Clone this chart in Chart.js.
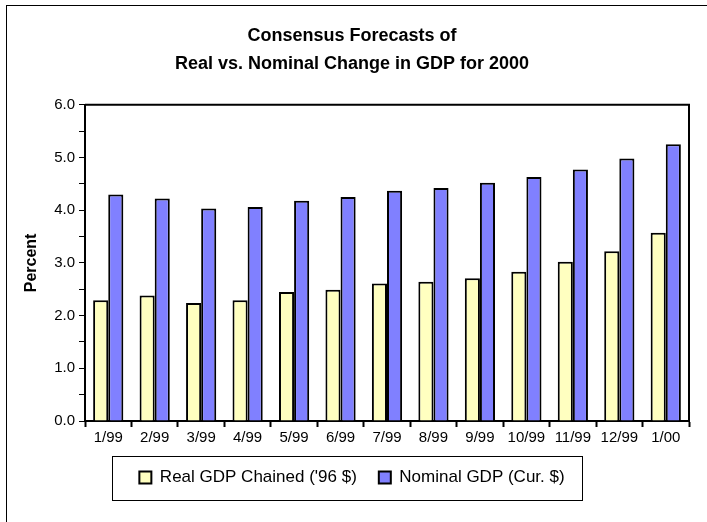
<!DOCTYPE html>
<html lang="en">
<head>
    <meta charset="UTF-8">
    <title>Consensus Forecasts of Real vs. Nominal Change in GDP for 2000</title>
    <script src="https://cdn.jsdelivr.net/npm/chart.js"></script>
    <style>
        html, body { margin: 0; padding: 0; background: #fff; }
        #wrap { position: relative; width: 707px; height: 522px; overflow: hidden; }
        #frame { position: absolute; left: 6px; top: 5px; width: 800px; height: 600px;
                 border-left: 1px solid #000; border-top: 1px solid #000; }
        canvas { position: absolute; left: 0; top: 0; }
    </style>
</head>
<body>
    <div id="wrap">
        <div id="frame"></div>
        <canvas id="gdpChart" width="707" height="522"></canvas>
    </div>

    <script>
        // Data
        const months = ['1/99', '2/99', '3/99', '4/99', '5/99', '6/99', '7/99',
                        '8/99', '9/99', '10/99', '11/99', '12/99', '1/00'];
        const realGdp = [2.29, 2.38, 2.24, 2.29, 2.45, 2.49, 2.61, 2.64, 2.71, 2.83, 3.02, 3.22, 3.57];
        const nominalGdp = [4.30, 4.22, 4.03, 4.06, 4.18, 4.25, 4.37, 4.42, 4.52, 4.63, 4.77, 4.98, 5.25];
        const titleLines = ['Consensus Forecasts of', 'Real vs. Nominal Change in GDP for 2000'];

        const font = 'Arial, "Liberation Sans", sans-serif';

        // box round the plot area and round the legend
        const boxes = {
            id: 'boxes',
            afterDraw(chart) {
                const ctx = chart.ctx;
                const a = chart.chartArea;
                ctx.save();
                ctx.strokeStyle = '#000';
                ctx.lineWidth = 2;
                ctx.beginPath();
                ctx.moveTo(a.left, a.top);
                ctx.lineTo(a.right, a.top);
                ctx.lineTo(a.right, a.bottom);
                ctx.stroke();

                const hb = chart.legend.legendHitBoxes;
                if (hb && hb.length) {
                    const l = Math.min(...hb.map(b => b.left)) - 27;
                    const r = Math.max(...hb.map(b => b.left + b.width)) + 18;
                    const t = Math.min(...hb.map(b => b.top)) - 13.5;
                    const bt = Math.max(...hb.map(b => b.top + b.height)) + 13.5;
                    ctx.lineWidth = 1;
                    ctx.strokeRect(Math.round(l) + 0.5, Math.round(t) + 0.5, Math.round(r - l), Math.round(bt - t));
                }
                ctx.restore();
            }
        };

        const ctx = document.getElementById('gdpChart').getContext('2d');
        new Chart(ctx, {
            type: 'bar',
            data: {
                labels: months,
                datasets: [{
                    label: "Real GDP Chained ('96 $)",
                    data: realGdp,
                    backgroundColor: '#FFFFC0',
                    borderColor: '#000',
                    borderWidth: 2
                }, {
                    label: 'Nominal GDP (Cur. $)',
                    data: nominalGdp,
                    backgroundColor: '#8080FF',
                    borderColor: '#000',
                    borderWidth: 2
                }]
            },
            options: {
                responsive: false,
                animation: false,
                layout: { padding: { left: 15, right: 18, top: 9, bottom: 26 } },
                datasets: { bar: { categoryPercentage: 0.65, barPercentage: 1.0 } },
                plugins: {
                    tooltip: { enabled: false },
                    title: {
                        display: true,
                        text: titleLines,
                        color: '#000',
                        font: { family: font, size: 18, weight: 'bold', lineHeight: 1.55 },
                        padding: { top: 13, bottom: 27 }
                    },
                    legend: {
                        position: 'bottom',
                        labels: {
                            color: '#000',
                            font: { family: font, size: 17 },
                            boxWidth: 12,
                            boxHeight: 12,
                            padding: 22,
                            generateLabels(chart) {
                                return chart.data.datasets.map((ds, i) => ({
                                    text: ds.label,
                                    fillStyle: ds.backgroundColor,
                                    strokeStyle: '#000',
                                    lineWidth: 2,
                                    datasetIndex: i,
                                    fontColor: '#000'
                                }));
                            }
                        }
                    }
                },
                scales: {
                    x: {
                        afterFit: s => { s.height = 26; },
                        grid: { drawOnChartArea: false, offset: true, tickLength: 6, color: '#000', tickWidth: 2 },
                        border: { color: '#000', width: 2 },
                        ticks: { color: '#000', font: { family: font, size: 15 }, maxRotation: 0, autoSkip: false, padding: 2 }
                    },
                    y: {
                        min: 0,
                        max: 6,
                        afterFit: s => { s.width = 70; },
                        grid: { drawOnChartArea: false, tickLength: 6, color: '#000', tickWidth: 1 },
                        border: { color: '#000', width: 2 },
                        ticks: {
                            stepSize: 0.5,
                            color: '#000',
                            font: { family: font, size: 15 },
                            padding: 4,
                            callback: v => (Number.isInteger(v) ? v.toFixed(1) : '')
                        },
                        title: {
                            display: true,
                            text: 'Percent',
                            color: '#000',
                            font: { family: font, size: 16, weight: 'bold' },
                            padding: { top: 7, bottom: 0 }
                        }
                    }
                }
            },
            plugins: [boxes]
        });
    </script>
</body>
</html>
